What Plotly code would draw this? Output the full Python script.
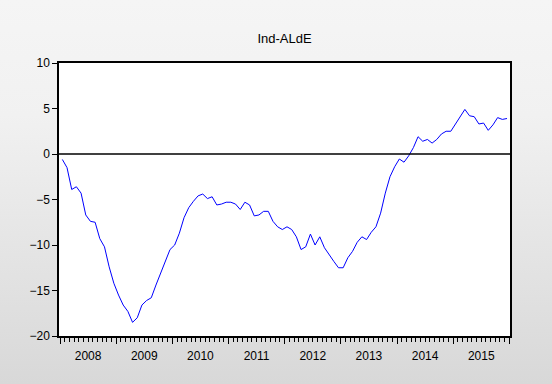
import base64
import plotly.graph_objects as go

title = "Ind-ALdE"
start_year = 2008
years = list(range(2008, 2016))
values = [
    -0.6, -1.5, -3.9, -3.6, -4.3, -6.7, -7.4, -7.5, -9.3, -10.2, -12.4, -14.2,
    -15.5, -16.6, -17.3, -18.5, -18.0, -16.6, -16.1, -15.8, -14.4, -13.1, -12.0, -10.5,
    -10.0, -8.7, -7.0, -5.9, -5.2, -4.6, -4.4, -4.9, -4.7, -5.6, -5.5, -5.3,
    -5.3, -5.5, -6.1, -5.3, -5.6, -6.8, -6.7, -6.3, -6.3, -7.4, -8.0, -8.3,
    -8.0, -8.3, -9.1, -10.5, -10.2, -8.8, -10.0, -9.1, -10.3, -11.1, -11.8, -12.5,
    -12.5, -11.4, -10.7, -9.7, -9.1, -9.4, -8.6, -8.0, -6.5, -4.3, -2.5, -1.4,
    -0.55, -0.9, -0.2, 0.7, 1.9, 1.4, 1.6, 1.2, 1.6, 2.2, 2.5, 2.5,
    3.3, 4.1, 4.9, 4.2, 4.1, 3.3, 3.4, 2.6, 3.2, 4.0, 3.8, 3.9,
]
y_ticks = [-20, -15, -10, -5, 0, 5, 10]

# monthly observations plotted at mid-month
x = [start_year + (i + 0.5) / 12 for i in range(len(values))]
year_mid = [y + 0.5 for y in years]
year_bounds = list(range(2008, 2017))

W, H = 552, 384
L, R, T, B = 59, 42, 63, 48
pw, ph = W - L - R, H - T - B
xr = [2007.982, 2016.012]

svg = (
    '<svg xmlns="http://www.w3.org/2000/svg" width="552" height="384" preserveAspectRatio="none">'
    '<defs><linearGradient id="g" x1="0" y1="0" x2="0" y2="1">'
    '<stop offset="0" stop-color="#f5f5f5"/><stop offset="0.3" stop-color="#f1f1f1"/>'
    '<stop offset="1" stop-color="#d8d8d8"/></linearGradient></defs>'
    '<rect width="552" height="384" fill="url(#g)"/></svg>'
)
src = "data:image/svg+xml;base64," + base64.b64encode(svg.encode()).decode()

fig = go.Figure()
fig.add_trace(go.Scatter(x=x, y=values, mode="lines",
                         line=dict(color="#0000ff", width=1), hoverinfo="skip"))
fig.add_trace(go.Scatter(x=[xr[0], xr[1]], y=[None, None], xaxis="x2",
                         mode="lines", showlegend=False, hoverinfo="skip"))

fig.add_hline(y=0, line=dict(color="black", width=1.5))
# white plot-area background above the gradient image
fig.add_shape(type="rect", xref="paper", yref="paper", x0=0, x1=1, y0=0, y1=1,
              fillcolor="white", line=dict(width=0), layer="below")

font = dict(family="Liberation Sans, Arial, sans-serif", size=12, color="black")

fig.update_layout(
    width=W, height=H,
    margin=dict(l=L, r=R, t=T, b=B),
    paper_bgcolor="#e6e6e6",
    plot_bgcolor="rgba(0,0,0,0)",
    showlegend=False,
    title=dict(text=title, x=(L + pw / 2) / W, xanchor="center", y=1 - 38 / H,
               yanchor="middle", font=dict(family="Liberation Sans, Arial, sans-serif",
                                            size=13, color="black")),
    xaxis=dict(range=xr, tickvals=year_mid, ticktext=[str(y) for y in years],
               ticks="", showgrid=False, zeroline=False, showline=True,
               linecolor="black", linewidth=1.5, mirror=True, tickfont=font,
               ticklabelstandoff=8,
               minor=dict(tick0=2008, dtick=1 / 12, ticks="outside", ticklen=4,
                          tickcolor="black", tickwidth=1, showgrid=False)),
    xaxis2=dict(range=xr, overlaying="x", anchor="y", side="bottom",
                tickvals=year_bounds, ticks="outside", ticklen=7, tickwidth=1,
                tickcolor="black", showticklabels=False, showgrid=False,
                zeroline=False, showline=False),
    yaxis=dict(range=[-20, 10], tickvals=y_ticks, ticks="outside", ticklen=5,
               tickcolor="black", showgrid=False, zeroline=False, showline=True,
               linecolor="black", linewidth=1.5, mirror=True, tickfont=font),
    images=[dict(source=src, xref="paper", yref="paper", x=-L / pw, y=1 + T / ph,
                 sizex=W / pw, sizey=H / ph, sizing="stretch", xanchor="left",
                 yanchor="top", layer="below")],
)

fig.write_html("out.html", config={"displayModeBar": False},
               post_script="document.body.style.margin='0';document.body.style.padding='0';document.body.style.overflow='hidden';")
